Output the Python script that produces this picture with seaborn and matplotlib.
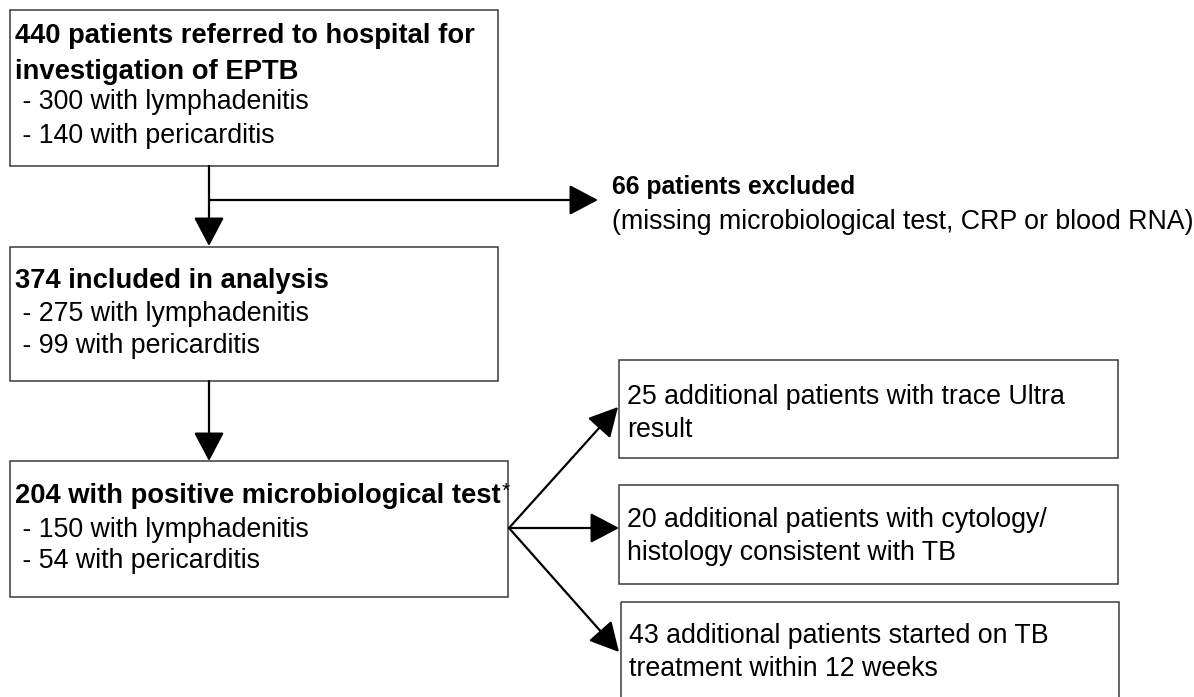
import matplotlib.pyplot as plt
import seaborn as sns
from matplotlib.patches import Rectangle

sns.set_theme(style="white")
plt.rcParams["font.family"] = ["Liberation Sans", "DejaVu Sans"]

# ---------------------------------------------------------
# flowchart content
# ---------------------------------------------------------
referred = [440, 300, 140]
excluded = 66
included = [374, 275, 99]
positive = [204, 150, 54]
additional = [25, 20, 43]

main_titles = [
    [f"{referred[0]} patients referred to hospital for", "investigation of EPTB"],
    [f"{included[0]} included in analysis"],
    [f"{positive[0]} with positive microbiological test"],
]
title_marks = ["", "", "*"]  # footnote marker after the last title line
main_items = [
    [f" - {referred[1]} with lymphadenitis", f" - {referred[2]} with pericarditis"],
    [f" - {included[1]} with lymphadenitis", f" - {included[2]} with pericarditis"],
    [f" - {positive[1]} with lymphadenitis", f" - {positive[2]} with pericarditis"],
]
excluded_text = [f"{excluded} patients excluded",
                 "(missing microbiological test, CRP or blood RNA)"]
side_texts = [
    [f"{additional[0]} additional patients with trace Ultra", "result"],
    [f"{additional[1]} additional patients with cytology/", "histology consistent with TB"],
    [f"{additional[2]} additional patients started on TB", "treatment within 12 weeks"],
]

# pixel layout (figure is 1194 x 697 px, y grows downwards)
W, H = 1194, 697
main_boxes = [(10, 10, 488, 156), (10, 247, 488, 134), (10, 461, 498, 136)]
main_baselines = [[43, 79, 109, 143], [288, 321, 353], [503, 537, 568]]
side_boxes = [(619, 360, 499, 98), (619, 485, 499, 99), (621, 602, 498, 110)]
side_baselines = [[404, 437], [527, 560], [643, 676]]
FS = 19.3
FS_BOLD = 19.7

fig = plt.figure(figsize=(W / 100, H / 100), dpi=100)
ax = fig.add_axes([0, 0, 1, 1])
ax.set_xlim(0, W)
ax.set_ylim(H, 0)
ax.axis("off")

box_kw = dict(fill=False, edgecolor="#3a3a3a", linewidth=1.1)
arrow_kw = dict(arrowstyle="-|>,head_length=1.8,head_width=0.95", color="black",
                lw=1.6, shrinkA=0, shrinkB=0, mutation_scale=10)


def arrow(x0, y0, x1, y1):
    ax.annotate("", xy=(x1, y1), xytext=(x0, y0), arrowprops=arrow_kw)


# main column boxes
for (x, y, w, h), titles, mark, items, bases in zip(main_boxes, main_titles, title_marks,
                                                    main_items, main_baselines):
    ax.add_patch(Rectangle((x, y), w, h, **box_kw))
    lines = [(t, "bold", FS_BOLD) for t in titles] + [(t, "normal", FS) for t in items]
    last_title = None
    for i, ((txt, weight, fs), yb) in enumerate(zip(lines, bases)):
        t = ax.text(x + 5, yb, txt, fontsize=fs, fontweight=weight, va="baseline",
                    ha="left", color="black")
        if i == len(titles) - 1:
            last_title = t
    if mark:
        ax.annotate(mark, xy=(1, 1), xycoords=last_title, xytext=(0.5, 1),
                    textcoords="offset points", ha="left", va="top",
                    fontsize=15, color="black")

# side boxes
for (x, y, w, h), lines, bases in zip(side_boxes, side_texts, side_baselines):
    ax.add_patch(Rectangle((x, y), w, h, **box_kw))
    for txt, yb in zip(lines, bases):
        ax.text(x + 8, yb, txt, fontsize=FS, va="baseline", ha="left", color="black")

# excluded note
ax.text(612, 194, excluded_text[0], fontsize=17.8, fontweight="bold",
        va="baseline", color="black")
ax.text(612, 229, excluded_text[1], fontsize=FS, va="baseline", color="black")

# arrows
arrow(209, 166, 209, 246)
arrow(209, 200, 598, 200)
arrow(209, 381, 209, 461)
fan_x, fan_y = 509, 528
arrow(fan_x, fan_y, 618, 407)
arrow(fan_x, fan_y, 619, 528)
arrow(fan_x, fan_y, 619, 652)

fig.savefig("out.png", dpi=100, facecolor="white")
